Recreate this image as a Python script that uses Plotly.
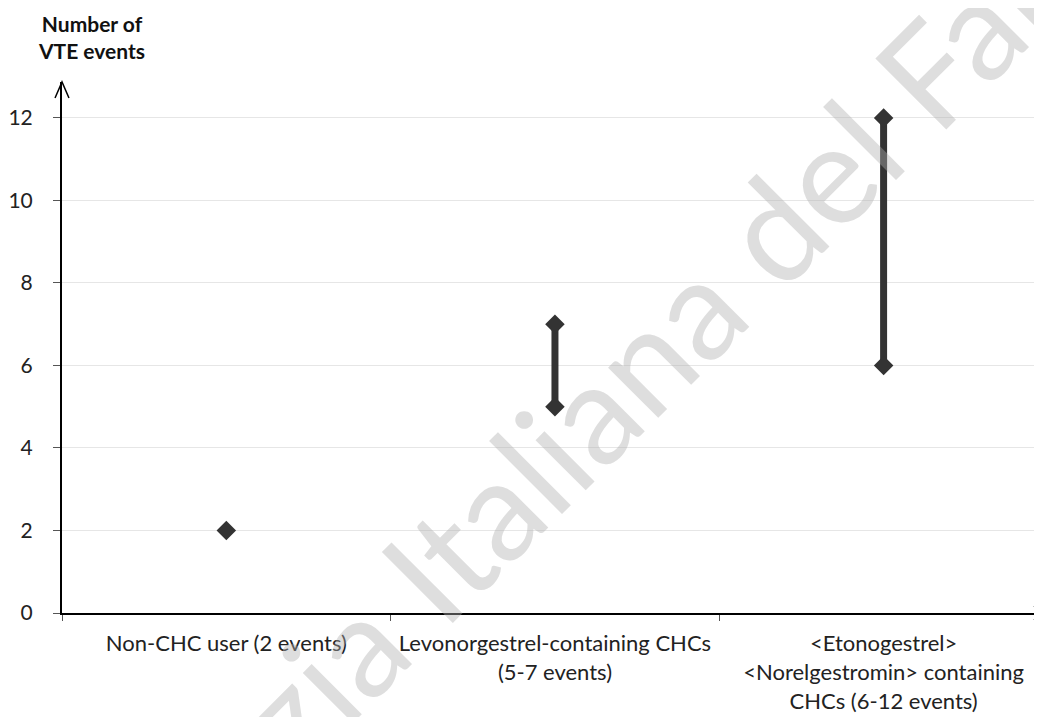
import plotly.graph_objects as go

categories = [
    "Non-CHC user (2 events)",
    "Levonorgestrel-containing CHCs<br>(5-7 events)",
    "&lt;Etonogestrel&gt;<br>&lt;Norelgestromin&gt; containing<br>CHCs (6-12 events)",
]
low_events = [2, 5, 6]
high_events = [2, 7, 12]
y_ticks = [0, 2, 4, 6, 8, 10, 12]

# the page body adds an 8px offset; size the figure to fill the window
OFF = 8
W, H = 1042 - OFF, 717 - OFF
ML, MR, MT, MB = 58 - OFF, 0, 82 - OFF, H - (613 - OFF)
PW, PH = W - ML - MR, H - MT - MB

def px(x):  # page pixel -> paper
    return (x - OFF - ML) / PW

def py(y):
    return (H - MB - (y - OFF)) / PH

dark = "#333333"
fig = go.Figure()

# range lines
lx, ly = [], []
for c, lo, hi in zip(categories, low_events, high_events):
    if hi != lo:
        lx += [c, c, None]
        ly += [lo, hi, None]
fig.add_trace(go.Scatter(x=lx, y=ly, mode="lines",
                         line=dict(color=dark, width=7), hoverinfo="skip",
                         showlegend=False))
# markers
mx, my = [], []
for c, lo, hi in zip(categories, low_events, high_events):
    mx.append(c); my.append(lo)
    if hi != lo:
        mx.append(c); my.append(hi)
fig.add_trace(go.Scatter(x=mx, y=my, mode="markers",
                         marker=dict(symbol="diamond", size=15, color=dark),
                         showlegend=False))

font_fam = "Lato, 'Open Sans', sans-serif"

fig.update_layout(
    width=W, height=H,
    margin=dict(l=ML, r=MR, t=MT, b=MB),
    paper_bgcolor="white", plot_bgcolor="white",
    font=dict(family=font_fam, size=20, color="#222222"),
    xaxis=dict(
        type="category", categoryorder="array", categoryarray=categories,
        range=[-0.5, 2.482], tickson="boundaries",
        showgrid=False, showline=True, linecolor="black", linewidth=2,
        ticks="outside", ticklen=6, tickcolor="#555555", tickwidth=1,
        ticklabelstandoff=10, tickfont=dict(size=22),
        zeroline=False,
    ),
    yaxis=dict(
        range=[0, 12.87], tickvals=y_ticks,
        showgrid=True, gridcolor="#e6e6e6", gridwidth=1,
        showline=True, linecolor="black", linewidth=2,
        ticks="outside", ticklen=7, tickcolor="#555555", tickwidth=1,
        ticklabelstandoff=16, tickfont=dict(size=21),
        zeroline=False,
    ),
)

# axis arrowheads
fig.add_shape(type="path", xref="paper", yref="paper",
              path=f"M {px(51)} {py(98)} L {px(58)} {py(82)} L {px(65)} {py(98)}",
              line=dict(color="black", width=1.5))
fig.add_shape(type="path", xref="paper", yref="paper",
              path=f"M {px(1034)} {py(606)} L {px(1042)} {py(613)} L {px(1034)} {py(620)}",
              line=dict(color="black", width=1.5))

# y-axis title
fig.add_annotation(xref="paper", yref="paper", x=px(88), y=py(9),
                   text="<b>Number of<br>VTE events</b>", showarrow=False,
                   xanchor="center", yanchor="top", align="center",
                   font=dict(size=21, color="#111111", family=font_fam))

# watermark
fig.add_annotation(xref="paper", yref="paper", x=px(650), y=py(348),
                   text="Agenzia Italiana del Farmaco", showarrow=False,
                   textangle=-45, xanchor="center", yanchor="middle",
                   font=dict(size=140, color="rgba(174,174,174,0.41)",
                             family=font_fam))

fig.write_html("out.html")
